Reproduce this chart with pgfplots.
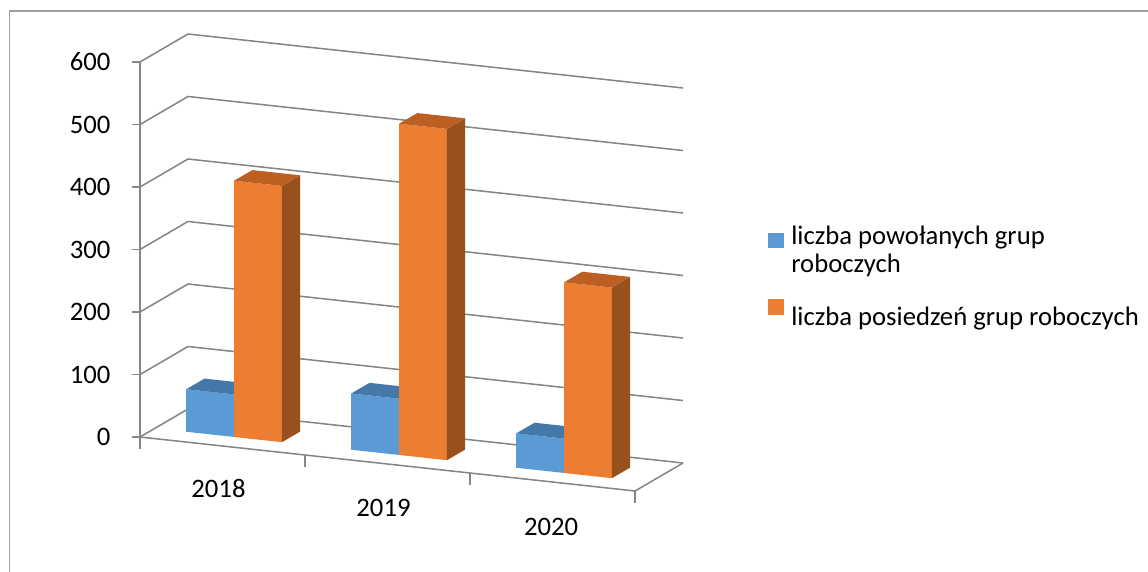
\documentclass[border=0pt]{standalone}
\usepackage{fontspec}
\setmainfont{Carlito}
\usepackage{pgfplots}
\pgfplotsset{compat=1.18}
\definecolor{bluef}{RGB}{91,155,213}
\definecolor{bluet}{RGB}{67,120,168}
\definecolor{blues}{RGB}{58,106,150}
\definecolor{orangef}{RGB}{237,125,49}
\definecolor{oranget}{RGB}{187,95,35}
\definecolor{oranges}{RGB}{152,80,28}
\definecolor{gridc}{RGB}{134,134,134}
\definecolor{framec}{RGB}{160,160,160}
\newcommand{\cf}{\fontsize{20pt}{18.5pt}\selectfont}
% bar: x0, x1, value, front, side, top
\newcommand{\cuboid}[6]{%
 \addplot3[fill=#4, draw=none, forget plot] coordinates {(#1,0.31,0) (#2,0.31,0) (#2,0.31,#3) (#1,0.31,#3)};
 \addplot3[fill=#5, draw=none, forget plot] coordinates {(#2,0.31,0) (#2,0.69,0) (#2,0.69,#3) (#2,0.31,#3)};
 \addplot3[fill=#6, draw=none, forget plot] coordinates {(#1,0.31,#3) (#2,0.31,#3) (#2,0.69,#3) (#1,0.69,#3)};
}
\begin{document}
\begin{tikzpicture}
\useasboundingbox (0,0) rectangle (861pt,-428.25pt);
\draw[color=framec, line width=1.1pt] (7pt,-440pt) -- (7pt,-8.3pt) -- (870pt,-8.3pt);
\begin{axis}[
  at={(166.875pt,-334.5pt)}, anchor=origin,
  x={(123.75pt,-13.5pt)}, y={(36pt,21pt)}, z={(0pt,0.46875pt)},
  xmin=-0.5, xmax=2.5, ymin=0, ymax=1, zmin=0, zmax=600,
  hide axis, clip=false,
  legend cell align=left,
  legend style={draw=none, fill=none, font=\cf, cells={align=left},
    at={(axis cs:3.281,0,455)}, anchor=north west, row sep=17pt, column sep=4pt},
]
% grid lines on left and back walls
\pgfplotsinvokeforeach{0,100,...,600}{
  \draw[gridc, line width=1.15pt] (axis cs:-0.5,0,#1) -- (axis cs:-0.5,1,#1) -- (axis cs:2.5,1,#1);
  \draw[gridc, line width=1.15pt] (axis cs:-0.5,0,#1) -- ++(-6pt,0pt);
  \node[anchor=east, font=\cf, inner sep=0pt] at (axis cs:-0.5,0,#1) [xshift=-22pt] {#1};
}
% vertical axis and floor
\draw[gridc, line width=1.15pt] (axis cs:-0.5,0,0) -- (axis cs:-0.5,0,600);
\draw[gridc, line width=1.15pt] (axis cs:-0.5,0,0) -- (axis cs:2.5,0,0) -- (axis cs:2.5,1,0);
\pgfplotsinvokeforeach{-0.5,0.5,1.5,2.5}{
  \draw[gridc, line width=1.15pt] (axis cs:#1,0,0) -- ++(0pt,-9pt);
}
\node[font=\cf] at (axis cs:0,0,0) [xshift=-3pt, yshift=-32pt] {2018};
\node[font=\cf] at (axis cs:1,0,0) [xshift=-3pt, yshift=-33pt] {2019};
\node[font=\cf] at (axis cs:2,0,0) [xshift=-1pt, yshift=-34pt] {2020};
% bars (value = z)
\cuboid{-0.31}{-0.02}{68}{bluef}{blues}{bluet}
\cuboid{-0.02}{0.27}{410}{orangef}{oranges}{oranget}
\cuboid{0.69}{0.98}{90}{bluef}{blues}{bluet}
\cuboid{0.98}{1.27}{530}{orangef}{oranges}{oranget}
\cuboid{1.69}{1.98}{55}{bluef}{blues}{bluet}
\cuboid{1.98}{2.27}{305}{orangef}{oranges}{oranget}
\addlegendimage{legend image code/.code={\fill[bluef] (0pt,2pt) rectangle (11pt,13pt);}}
\addlegendentry{liczba powołanych grup\\[2pt]roboczych}
\addlegendimage{legend image code/.code={\fill[orangef] (0pt,2pt) rectangle (11pt,13pt);}}
\addlegendentry{liczba posiedzeń grup roboczych}
\end{axis}
\end{tikzpicture}
\end{document}
